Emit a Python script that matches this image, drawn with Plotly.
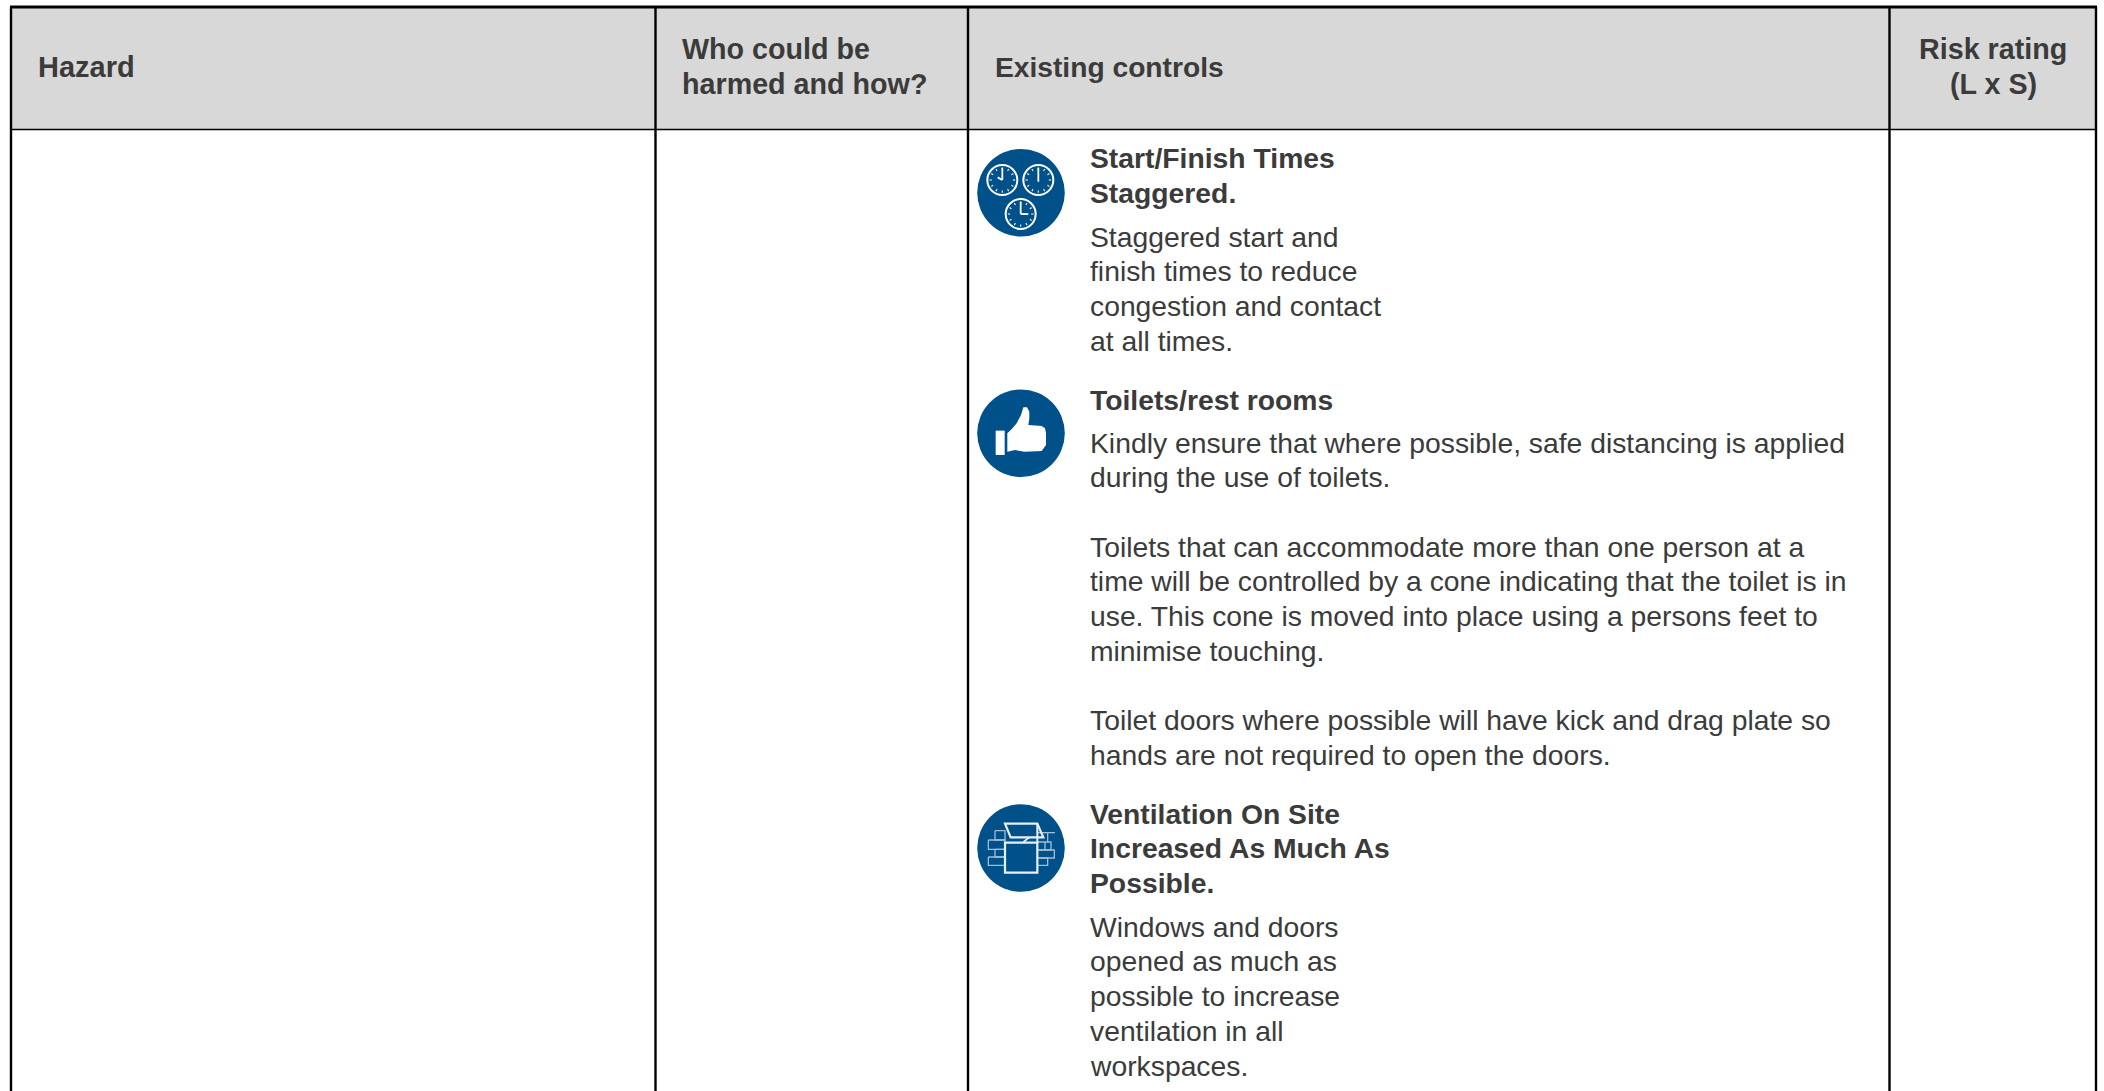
import plotly.graph_objects as go
import math

W, H = 2104, 1091

# ---------- content ----------
header_hazard = ["Hazard"]
header_who = ["Who could be", "harmed and how?"]
header_controls = ["Existing controls"]
header_risk = ["Risk rating", "(L x S)"]

block1_title = ["Start/Finish Times", "Staggered."]
block1_body = ["Staggered start and", "finish times to reduce", "congestion and contact", "at all times."]
block2_title = ["Toilets/rest rooms"]
block2_body = ["Kindly ensure that where possible, safe distancing is applied", "during the use of toilets."]
block2_body2 = ["Toilets that can accommodate more than one person at a",
                "time will be controlled by a cone indicating that the toilet is in",
                "use. This cone is moved into place using a persons feet to",
                "minimise touching."]
block2_body3 = ["Toilet doors where possible will have kick and drag plate so",
                "hands are not required to open the doors."]
block3_title = ["Ventilation On Site", "Increased As Much As", "Possible."]
block3_body = ["Windows and doors", "opened as much as", "possible to increase", "ventilation in all", "workspaces."]

# ---------- layout constants ----------
FONT = "Liberation Sans, Arial, sans-serif"
TXT = "#3b3b3b"
BLUE = "#00518a"
GREY = "#d8d8d8"
SIZE = 28.3
PITCH = 34.8
V_LINES = [11, 655.5, 968, 1889.5, 2096]
TOP, HEAD_BOTTOM = 7, 129.5
TEXT_X = 1090

shapes, annotations = [], []

def text(lines, x, y0, bold=False, anchor="left", pitch=PITCH, size=SIZE):
    for i, s in enumerate(lines):
        annotations.append(dict(
            x=x, y=y0 + i * pitch, text=f"<b>{s}</b>" if bold else s, showarrow=False,
            xanchor=anchor, yanchor="middle", xref="x", yref="y", borderpad=0, borderwidth=0,
            font=dict(family=FONT, size=size, color=TXT)))

def line(x0, y0, x1, y1, color="#000000", width=2, layer="above"):
    shapes.append(dict(type="line", x0=x0, y0=y0, x1=x1, y1=y1,
                       line=dict(color=color, width=width), layer=layer))

def circle(cx, cy, r, fill=None, color=None, width=0):
    shapes.append(dict(type="circle", x0=cx - r, x1=cx + r, y0=cy - r, y1=cy + r,
                       fillcolor=fill if fill else "rgba(0,0,0,0)",
                       line=dict(color=color if color else "rgba(0,0,0,0)", width=width)))

def path(points, cx, cy, fill=None, color=None, width=0, closed=True):
    d = "M " + " L ".join(f"{cx + x / 3:.2f},{cy + y / 3:.2f}" for x, y in points) + (" Z" if closed else "")
    shapes.append(dict(type="path", path=d, fillcolor=fill if fill else "rgba(0,0,0,0)",
                       line=dict(color=color if color else "rgba(0,0,0,0)", width=width)))

# ---------- table frame ----------
shapes.append(dict(type="rect", x0=V_LINES[0], x1=V_LINES[-1], y0=TOP, y1=HEAD_BOTTOM,
                   fillcolor=GREY, line=dict(width=0), layer="below"))
line(V_LINES[0] - 1, TOP, V_LINES[-1] + 1, TOP, width=3)
line(V_LINES[0], HEAD_BOTTOM, V_LINES[-1], HEAD_BOTTOM, width=1.5)
for vx in V_LINES:
    line(vx, TOP, vx, H, width=2.4)

# ---------- header ----------
text(header_hazard, 37.5, 66.5, bold=True, size=29)
text(header_who, 682, 49, bold=True, size=28.7)
text(header_controls, 994.5, 66.5, bold=True, size=28.2)
text(header_risk, 1993, 49, bold=True, anchor="center", size=28.7)

# ---------- body text ----------
text(block1_title, TEXT_X, 158, bold=True)
text(block1_body, TEXT_X, 236.5)
text(block2_title, TEXT_X, 399.5, bold=True)
text(block2_body, TEXT_X, 442.5)
text(block2_body2, TEXT_X, 546.5)
text(block2_body3, TEXT_X, 720)
text(block3_title, TEXT_X, 813.5, bold=True)
text(block3_body, TEXT_X, 926.5)

# ---------- icon 1: clocks ----------
IX = 1021
c1y = 192.7
circle(IX, c1y, 43.8, fill=BLUE)
clock_centres = [(-56, -38), (52, -38), (-1, 64)]
clock_hands = [[(0, -36), (-14, -8)], [(0, -36), (0, 5)], [(0, -36), (23, 0)]]
for (dx, dy), hands in zip(clock_centres, clock_hands):
    ccx, ccy = IX + dx / 3, c1y + dy / 3
    circle(ccx, ccy, 15, color="#ffffff", width=2)
    for k in range(12):
        a = k * math.pi / 6
        line(ccx + 10.5 * math.cos(a), ccy + 10.5 * math.sin(a),
             ccx + 12.8 * math.cos(a), ccy + 12.8 * math.sin(a), color="#dfe9f1", width=1.2)
    for hx, hy in hands:
        line(ccx, ccy, ccx + hx / 3, ccy + hy / 3, color="#ffffff", width=1.8)

# ---------- icon 2: thumb ----------
c2y = 433.3
circle(IX, c2y, 43.8, fill=BLUE)
path([(-76, -8), (-49, -8), (-49, 65), (-76, 65)], IX, c2y, fill="#ffffff")
path([(-41, 0), (-27, -14), (-13, -30), (0, -55), (7, -78), (18, -78), (25, -65), (25, -45), (22, -25),
      (62, -22), (72, -15), (75, 0), (75, 35), (62, 53), (10, 55), (-18, 50), (-41, 55)],
     IX, c2y, fill="#ffffff")

# ---------- icon 3: window ----------
c3y = 848
circle(IX, c3y, 43.8, fill=BLUE)
BR = "#9fbdd4"
bricks = [[(-78, -52), (-48, -52), (-48, -24), (-78, -24), (-78, -52)],
          [(-98, -24), (-48, -24), (-48, 4), (-98, 4), (-98, -24)],
          [(-78, 4), (-48, 4), (-48, 27), (-78, 27), (-78, 4)],
          [(-98, 27), (-48, 27), (-48, 52), (-98, 52), (-98, 27)],
          [(49, -46), (102, -46)],
          [(80, -46), (80, -18)],
          [(49, -18), (90, -18), (90, 6), (49, 6)],
          [(72, -18), (72, 6)],
          [(49, 6), (100, 6), (100, 30), (49, 30)],
          [(49, 30), (80, 30), (80, 52), (49, 52)]]
for b in bricks:
    path(b, IX, c3y, color=BR, width=1.3, closed=False)
WH = "#e8f0f6"
path([(-48, -16), (49, -16), (49, 74), (-48, 74)], IX, c3y, color=WH, width=2.2)
path([(-48, -73), (49, -73), (67, -32), (-31, -32)], IX, c3y, color=WH, width=2.2)
path([(49, -73), (49, -16)], IX, c3y, color=WH, width=2, closed=False)
path([(7, -18), (25, -32)], IX, c3y, color=WH, width=1.6, closed=False)

fig = go.Figure()
fig.update_layout(
    width=W, height=H, margin=dict(l=0, r=0, t=0, b=0),
    paper_bgcolor="#ffffff", plot_bgcolor="#ffffff", showlegend=False,
    xaxis=dict(range=[0, W], visible=False, fixedrange=True),
    yaxis=dict(range=[H, 0], visible=False, fixedrange=True),
    shapes=shapes, annotations=annotations)
fig.write_html("out.html", config={"displayModeBar": False},
               post_script="document.body.style.margin='0';document.body.style.overflow='hidden';")
